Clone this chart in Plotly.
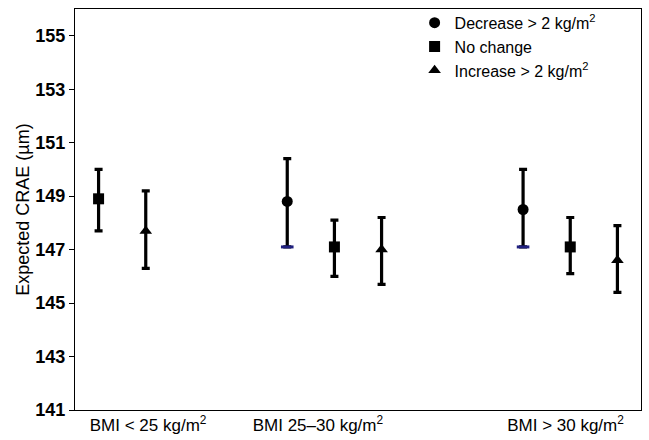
import plotly.graph_objects as go

groups = ["BMI < 25 kg/m<sup>2</sup>", "BMI 25–30 kg/m<sup>2</sup>", "BMI > 30 kg/m<sup>2</sup>"]
series = ["Decrease > 2 kg/m<sup>2</sup>", "No change", "Increase > 2 kg/m<sup>2</sup>"]

# group index for each point (Decrease has no value for BMI < 25)
dec_group = [1, 2]
dec_mean = [148.8, 148.5]
dec_low = [147.1, 147.1]
dec_high = [150.4, 150.0]

nc_group = [0, 1, 2]
nc_mean = [148.9, 147.1, 147.1]
nc_low = [147.7, 146.0, 146.1]
nc_high = [150.0, 148.1, 148.2]

inc_group = [0, 1, 2]
inc_mean = [147.7, 147.0, 146.6]
inc_low = [146.3, 145.7, 145.4]
inc_high = [149.2, 148.2, 147.9]

y_ticks = [141, 143, 145, 147, 149, 151, 153, 155]

offsets = [-0.2, 0.0, 0.2]
symbols = ["circle", "square", "triangle-up"]

fig = go.Figure()
data = [
    (dec_group, dec_mean, dec_low, dec_high),
    (nc_group, nc_mean, nc_low, nc_high),
    (inc_group, inc_mean, inc_low, inc_high),
]
for i, (g, m, lo, hi) in enumerate(data):
    xs = [gi + offsets[i] for gi in g]
    fig.add_trace(go.Scatter(
        x=xs, y=m, mode="markers", name=series[i],
        marker=dict(symbol=symbols[i], size=11, color="black"),
        error_y=dict(type="data", symmetric=False,
                     array=[h - v for h, v in zip(hi, m)],
                     arrayminus=[v - l for l, v in zip(lo, m)],
                     color="black", thickness=3.2, width=4),
    ))

# dark blue lower caps on the "Decrease" bars
fig.add_trace(go.Scatter(
    x=[gi + offsets[0] for gi in dec_group], y=dec_low, mode="markers",
    marker=dict(symbol="line-ew", size=9, line=dict(color="#202080", width=3)),
    showlegend=False, hoverinfo="skip",
))

FONT = "Liberation Sans, Arial, sans-serif"
fig.update_layout(
    width=649, height=440,
    margin=dict(l=75, r=8, t=6, b=30),
    plot_bgcolor="white", paper_bgcolor="white",
    font=dict(family=FONT, color="black", size=16),
    showlegend=True,
    legend=dict(x=0.6, y=1.008, xanchor="left", yanchor="top",
                bgcolor="rgba(0,0,0,0)", font=dict(size=16),
                itemwidth=30, tracegroupgap=0),
    xaxis=dict(range=[-0.1, 2.3], showgrid=False, zeroline=False,
               showline=True, linecolor="black", linewidth=1, mirror=True,
               tickmode="array", tickvals=[0.21, 0.93, 1.98], ticktext=groups,
               ticks="", tickfont=dict(size=17)),
    yaxis=dict(range=[141, 156], showgrid=False, zeroline=False,
               showline=True, linecolor="black", linewidth=1, mirror=True,
               tickmode="array", tickvals=y_ticks,
               ticks="outside", ticklen=5, tickcolor="black",
               tickfont=dict(size=18, family=FONT, weight="bold"),
               title=dict(text="Expected CRAE (µm)", font=dict(size=18), standoff=1)),
)

fig.write_html("out.html", config={"displayModeBar": False},
               post_script="document.body.style.margin='0';")
